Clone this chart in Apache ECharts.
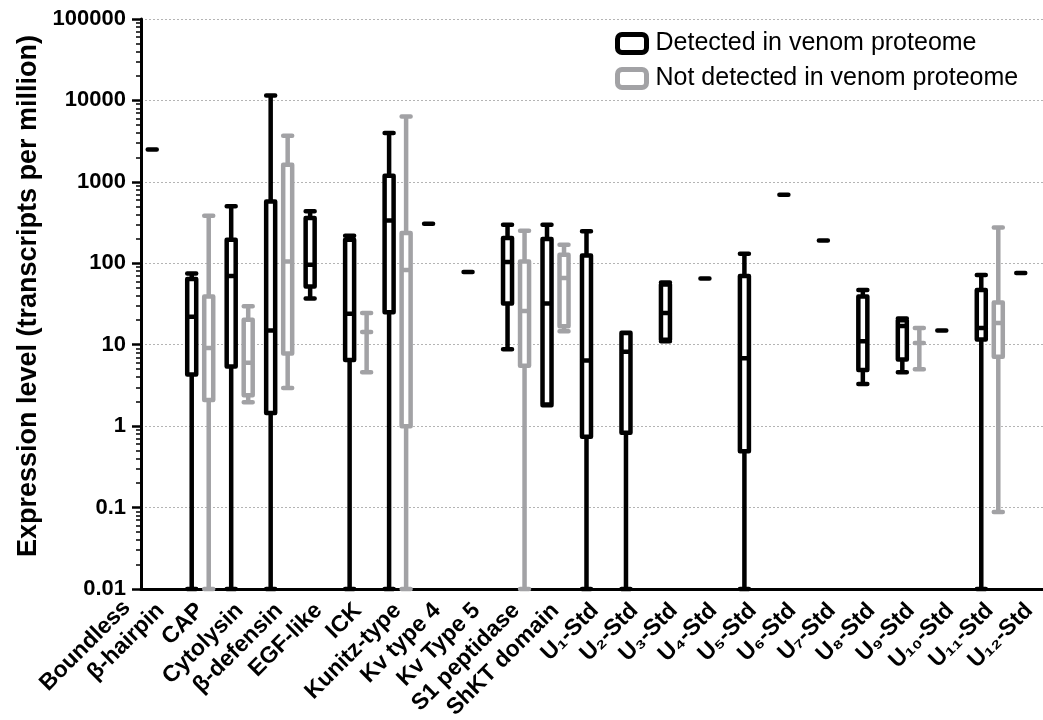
<!DOCTYPE html>
<html>
<head>
<meta charset="utf-8">
<script src="https://cdn.jsdelivr.net/npm/echarts@6/dist/echarts.min.js"></script>
<style>
html,body{margin:0;padding:0;background:#fff;}
#chart{width:1043px;height:720px;}
</style>
</head>
<body>
<div id="chart"></div>
<script>
// Categories (x axis)
var categories = [
  'Boundless\nβ-hairpin', 'CAP', 'Cytolysin', 'β-defensin', 'EGF-like', 'ICK',
  'Kunitz-type', 'Kv type 4', 'Kv Type 5', 'S1 peptidase', 'ShKT domain',
  'U₁-Std', 'U₂-Std', 'U₃-Std', 'U₄-Std', 'U₅-Std', 'U₆-Std', 'U₇-Std',
  'U₈-Std', 'U₉-Std', 'U₁₀-Std', 'U₁₁-Std', 'U₁₂-Std'
];

// Box statistics [min, Q1, median, Q3, max]; null = no data
var detected = [
  [2500, 2500, 2500, 2500, 2500],
  [0.01, 4.3, 22, 64, 75],
  [0.01, 5.4, 70, 195, 500],
  [0.01, 1.45, 15, 575, 11500],
  [37, 52, 96, 360, 435],
  [0.01, 6.5, 24, 195, 218],
  [0.01, 25, 336, 1190, 3980],
  [305, 305, 305, 305, 305],
  [78, 78, 78, 78, 78],
  [8.8, 32, 104, 204, 298],
  [1.8, 1.85, 32, 199, 298],
  [0.01, 0.74, 6.4, 125, 247],
  [0.01, 0.83, 8.2, 13.9, 14],
  [11, 11.5, 24.5, 55, 58],
  [65, 65, 65, 65, 65],
  [0.01, 0.49, 6.8, 70, 131],
  [695, 695, 695, 695, 695],
  [191, 191, 191, 191, 191],
  [3.3, 4.9, 11, 39, 47],
  [4.6, 6.6, 17, 20, 21],
  [14.9, 14.9, 14.9, 14.9, 14.9],
  [0.01, 11.6, 16, 47, 72],
  [76, 76, 76, 76, 76]
];

var notDetected = [
  null,
  [0.01, 2.1, 9.1, 39, 384],
  [1.96, 2.4, 6, 20.3, 29.6],
  [2.94, 7.8, 105, 1625, 3690],
  null,
  [4.6, 14.3, 14.3, 14.3, 24.5],
  [0.01, 1.0, 83, 235, 6370],
  null,
  null,
  [0.01, 5.5, 26, 105, 251],
  [14.6, 16.8, 66, 127, 169],
  null, null, null, null, null, null, null, null,
  [5.0, 10.5, 10.5, 10.5, 16],
  null,
  [0.088, 7.1, 18.5, 33, 276],
  null
];

var seriesNames = ['Detected in venom proteome', 'Not detected in venom proteome'];
var yTickLabels = ['0.01', '0.1', '1', '10', '100', '1000', '10000', '100000'];

var BLACK = '#000000';
var GREY = '#a2a2a5';
var FONT = '"Liberation Sans", Arial, Helvetica, sans-serif';
var XFS = 23;

function prep(arr) {
  return arr.map(function (d) { return d ? d : ['-', '-', '-', '-', '-']; });
}

// minor log ticks (2..9 within each decade)
var minorTicks = [];
for (var e = -2; e < 5; e++) {
  for (var k = 2; k <= 9; k++) {
    minorTicks.push(parseFloat((k * Math.pow(10, e)).toPrecision(3)));
  }
}

function fmtY(v) {
  var s = v < 1 ? String(parseFloat(v.toPrecision(3))) : String(Math.round(v));
  return yTickLabels.indexOf(s) >= 0 ? s : '';
}

function fmtX(value) {
  var parts = String(value).split('\n');
  if (parts.length === 2) {
    return '{a|' + parts[0] + '}\n{b|' + parts[1] + '}';
  }
  return value;
}

var xAxisData = categories.map(function (c) {
  if (c.indexOf('\n') >= 0) {
    return { value: c, textStyle: { padding: [0, 0, 26, 0] } };
  }
  return c;
});

var chart = echarts.init(document.getElementById('chart'), null, { renderer: 'canvas' });

var option = {
  backgroundColor: '#ffffff',
  animation: false,
  textStyle: { fontFamily: FONT },
  grid: { left: 141, top: 19, width: 908, height: 570, containLabel: false, outerBoundsMode: 'none' },
  legend: {
    orient: 'vertical',
    left: 610,
    top: 26,
    itemWidth: 29,
    itemHeight: 18,
    itemGap: 10,
    selectedMode: false,
    textStyle: { fontSize: 25, color: '#000', fontFamily: FONT, padding: [0, 0, 0, 4] },
    data: [
      { name: seriesNames[0], icon: 'roundRect', itemStyle: { color: '#fff', borderColor: BLACK, borderWidth: 5 } },
      { name: seriesNames[1], icon: 'roundRect', itemStyle: { color: '#fff', borderColor: GREY, borderWidth: 5 } }
    ]
  },
  xAxis: {
    type: 'category',
    data: xAxisData,
    boundaryGap: true,
    axisLine: { show: true, lineStyle: { color: '#000', width: 3 } },
    axisTick: { show: false },
    splitLine: { show: false },
    axisLabel: {
      interval: 0,
      rotate: 45,
      margin: 18,
      fontSize: XFS,
      fontWeight: 'bold',
      color: '#000',
      fontFamily: FONT,
      lineHeight: 26,
      formatter: fmtX,
      rich: {
        a: { fontSize: XFS, fontWeight: 'bold', color: '#000', fontFamily: FONT, lineHeight: 26, padding: [0, 22, 0, 0] },
        b: { fontSize: XFS, fontWeight: 'bold', color: '#000', fontFamily: FONT, lineHeight: 26 }
      }
    }
  },
  yAxis: [
    {
      type: 'log',
      logBase: 10,
      min: 0.01,
      max: 100000,
      splitNumber: 7,
      position: 'left',
      name: 'Expression level (transcripts per million)',
      nameLocation: 'middle',
      nameGap: 98,
      nameTextStyle: { fontSize: 27, fontWeight: 'bold', color: '#000', fontFamily: FONT, padding: [0, 0, 0, 16] },
      axisLine: { show: true, lineStyle: { color: '#000', width: 3 } },
      axisTick: { show: true, length: 9, lineStyle: { color: '#000', width: 2.5 } },
      axisLabel: { fontSize: 22, fontWeight: 'bold', color: '#000', margin: 15, fontFamily: FONT, formatter: fmtY },
      splitLine: { show: true, lineStyle: { color: '#b4b4b4', width: 1, type: [2, 2] } }
    },
    {
      type: 'log',
      logBase: 10,
      min: 0.01,
      max: 100000,
      position: 'left',
      axisLine: { show: false },
      axisLabel: { show: false },
      splitLine: { show: false },
      axisTick: { show: true, length: 5, customValues: minorTicks, lineStyle: { color: '#000', width: 1.5 } }
    }
  ],
  series: [
    {
      name: seriesNames[0],
      type: 'boxplot',
      data: prep(detected),
      boxWidth: [9, 9],
      emphasis: { disabled: true },
      itemStyle: { color: '#fff', borderColor: BLACK, borderWidth: 4.5, borderCap: 'round', borderJoin: 'round' }
    },
    {
      name: seriesNames[1],
      type: 'boxplot',
      data: prep(notDetected),
      boxWidth: [9, 9],
      emphasis: { disabled: true },
      itemStyle: { color: '#fff', borderColor: GREY, borderWidth: 4.5, borderCap: 'round', borderJoin: 'round' }
    }
  ]
};

chart.setOption(option);
</script>
</body>
</html>
